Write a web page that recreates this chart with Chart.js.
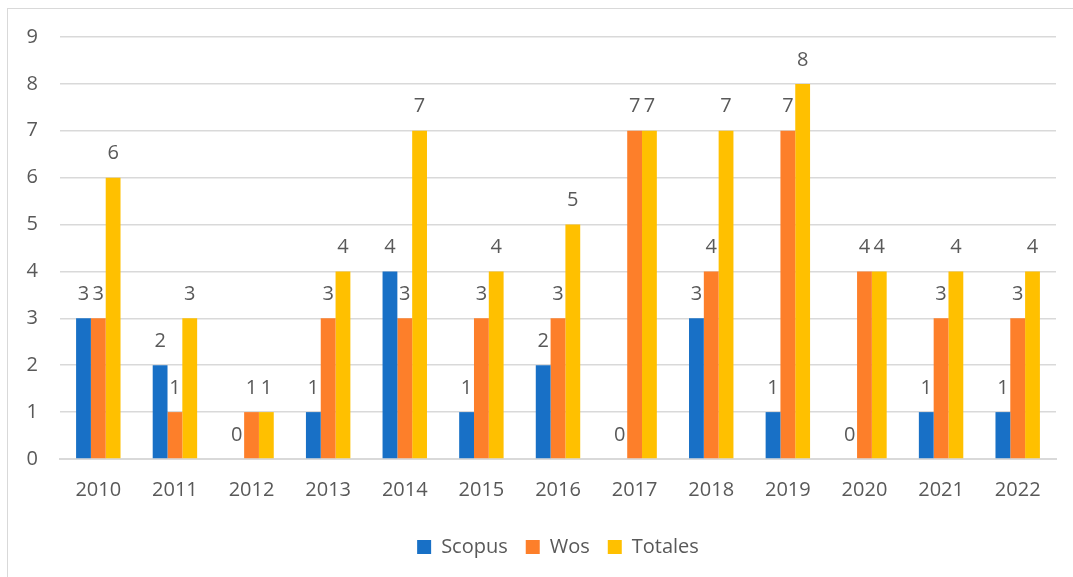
<!DOCTYPE html>
<html>
<head>
<meta charset="utf-8">
<script src="https://cdn.jsdelivr.net/npm/chart.js@4/dist/chart.umd.min.js"></script>
<style>
  html, body { margin: 0; padding: 0; background: #fff; }
  #wrap { position: relative; width: 1073px; height: 577px; overflow: hidden; }
  #frame { position: absolute; left: 7px; top: 8px; width: 1100px; height: 600px; border: 1px solid #d9d9d9; box-sizing: border-box; }
  canvas { position: absolute; left: 0; top: 0; }
</style>
</head>
<body>
<div id="wrap">
  <div id="frame"></div>
  <canvas id="chart" width="1073" height="577"></canvas>
</div>
<script>
// Daten
const years = ["2010", "2011", "2012", "2013", "2014", "2015", "2016", "2017", "2018", "2019", "2020", "2021", "2022"];
const scopus = [3, 2, 0, 1, 4, 1, 2, 0, 3, 1, 0, 1, 1];
const wos = [3, 1, 1, 3, 3, 3, 3, 7, 4, 7, 4, 3, 3];
const totales = [6, 3, 1, 4, 7, 4, 5, 7, 7, 8, 4, 4, 4];

const FONT = "Open Sans, Liberation Sans, Arial, sans-serif";
const GRAY = "#595959";

// Werte über die Balken schreiben
const valueLabels = {
  id: "valueLabels",
  afterDatasetsDraw(chart) {
    const ctx = chart.ctx;
    ctx.save();
    ctx.font = "20px " + FONT;
    ctx.fillStyle = GRAY;
    ctx.textAlign = "center";
    ctx.textBaseline = "middle";
    chart.data.datasets.forEach((ds, i) => {
      chart.getDatasetMeta(i).data.forEach((bar, j) => {
        ctx.fillText(String(ds.data[j]), bar.x, bar.y - 24);
      });
    });
    ctx.restore();
  }
};

new Chart(document.getElementById("chart"), {
  type: "bar",
  data: {
    labels: years,
    datasets: [
      { label: "Scopus", data: scopus, backgroundColor: "#1870c6" },
      { label: "Wos", data: wos, backgroundColor: "#fd7f2a" },
      { label: "Totales", data: totales, backgroundColor: "#ffc000" }
    ]
  },
  options: {
    responsive: false,
    animation: false,
    layout: { padding: { left: 0, right: 17, top: 37, bottom: 10 } },
    datasets: { bar: { categoryPercentage: 0.58, barPercentage: 1.0 } },
    plugins: {
      tooltip: { enabled: false },
      legend: {
        position: "bottom",
        fullSize: false,
        labels: {
          color: GRAY,
          font: { family: FONT, size: 20 },
          boxWidth: 14,
          boxHeight: 14,
          padding: 18
        }
      }
    },
    scales: {
      x: {
        grid: { display: false },
        border: { color: "#d9d9d9", width: 2 },
        ticks: { color: GRAY, font: { family: FONT, size: 20 }, padding: 11 },
        afterFit(scale) { scale.height = 60; }
      },
      y: {
        min: 0,
        max: 9,
        grid: { color: "#d9d9d9", lineWidth: 1.5, drawTicks: false },
        border: { display: false },
        ticks: { stepSize: 1, color: GRAY, font: { family: FONT, size: 20 }, padding: 22 },
        afterFit(scale) { scale.width = 60; }
      }
    }
  },
  plugins: [valueLabels]
});
</script>
</body>
</html>
